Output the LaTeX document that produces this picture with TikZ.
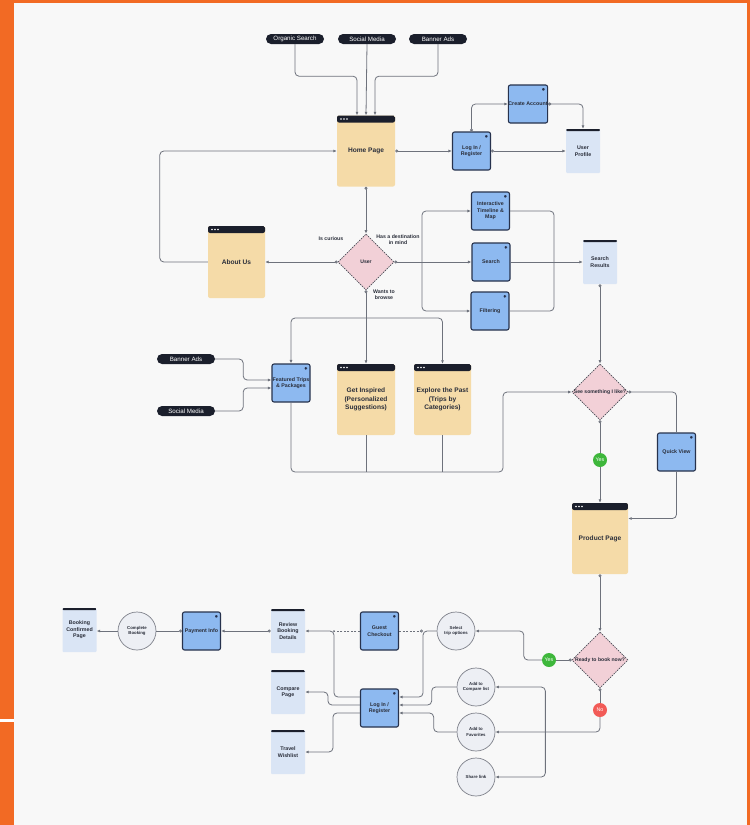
\documentclass[tikz,border=0pt]{standalone}
\usepackage{fontspec}
\setmainfont{Liberation Sans}
\usetikzlibrary{arrows.meta,shapes.geometric,calc}

\definecolor{framec}{HTML}{F26A24}
\definecolor{bgc}{HTML}{F8F8F8}
\definecolor{barc}{HTML}{1B1F2C}
\definecolor{tanc}{HTML}{F5DBA8}
\definecolor{bluec}{HTML}{8DB9F0}
\definecolor{edgec}{HTML}{27324D}
\definecolor{paleblue}{HTML}{DAE5F5}
\definecolor{pinkc}{HTML}{F2D0D7}
\definecolor{circc}{HTML}{EDEFF4}
\definecolor{linec}{HTML}{6E727C}
\definecolor{textc}{HTML}{2A2E3A}
\definecolor{yesc}{HTML}{3EB73B}
\definecolor{noc}{HTML}{F25B57}

\newcommand{\fsz}[2]{\fontsize{#1}{#2}\selectfont}

\begin{document}
\begin{tikzpicture}[x=1pt, y=-1pt,
    every node/.style={text=textc},
    pill/.style={rectangle, rounded corners=5pt, fill=barc, text=white, minimum width=58pt,
        minimum height=10pt, inner sep=0pt, font=\fsz{6.2}{7}},
    page/.style={rectangle, rounded corners=2pt, fill=tanc, minimum width=58pt, minimum height=71pt,
        inner sep=1pt, align=center, font=\fsz{6.6}{8.2}\bfseries,
        path picture={
            \fill[barc] (path picture bounding box.north west) rectangle ([yshift=-7pt]path picture bounding box.north east);
            \foreach \k in {4,7,10}
                \fill[white] ([xshift=\k pt, yshift=-3.5pt]path picture bounding box.north west) circle (0.9pt);
        }},
    lpage/.style={rectangle, rounded corners=1pt, fill=paleblue, minimum width=34pt, minimum height=44pt,
        inner sep=1pt, align=center, font=\fsz{5.3}{6.5}\bfseries,
        path picture={
            \fill[barc] (path picture bounding box.north west) rectangle ([yshift=-2pt]path picture bounding box.north east);
        }},
    blueb/.style={rectangle, rounded corners=2pt, draw=edgec, line width=1.1pt, fill=bluec, minimum size=38pt,
        inner sep=0pt, align=center, font=\fsz{5.3}{6.5}\bfseries,
        path picture={
            \fill[edgec] ([xshift=-5.5pt, yshift=-3pt]path picture bounding box.north east) rectangle ([xshift=-3pt, yshift=-5.5pt]path picture bounding box.north east);
        }},
    decision/.style={diamond, aspect=1, fill=pinkc, draw=barc!80, line width=0.6pt, dash pattern=on 1.5pt off 1pt,
        minimum width=56pt, minimum height=56pt, inner sep=0pt,
        label={[font=\fsz{5.1}{6}\bfseries, text=textc]center:#1}},
    action/.style={circle, fill=circc, draw=linec!90, line width=0.7pt, minimum size=38pt, inner sep=0pt,
        align=center, font=\fsz{4.3}{5.3}\bfseries},
    tag/.style={circle, minimum size=14pt, inner sep=0pt, text=white, font=\fsz{5.3}{6}},
    note/.style={align=center, font=\fsz{5.2}{6.2}\bfseries, inner sep=0pt},
    wire/.style={draw=linec, line width=0.8pt, rounded corners=4pt},
    arrow/.style={wire, -{Latex[length=3.5pt,width=3pt]}},
    oarrow/.style={wire, {Circle[length=3pt,fill=bgc]}-{Latex[length=3.5pt,width=3pt]}},
    owire/.style={wire, {Circle[length=3pt,fill=bgc]}-},
    dashwire/.style={wire, dash pattern=on 2pt off 1.5pt}
]
    % Frame
    \fill[framec] (0,0) rectangle (750,825);
    \fill[bgc] (14,2.5) rectangle (747,825);
    \fill[white] (0,718.5) rectangle (14,722);
    \useasboundingbox (0,0) rectangle (750,825);

    % Traffic sources
    \foreach \x/\t/\n in {295/Organic Search/os, 367/Social Media/sm, 438/Banner Ads/ba}
        \node[pill] (\n) at (\x,39) {\t};
    \node[pill] (ads) at (186,359) {Banner Ads};
    \node[pill] (social) at (186,411) {Social Media};

    % Pages
    \node[page] (home) at (366,151) {Home Page};
    \node[page, minimum width=57pt, minimum height=72pt] (about) at (236.5,262) {About Us};
    \node[page] (inspire) at (366,399.5) {Get Inspired\\(Personalized\\Suggestions)};
    \node[page, minimum width=57pt] (explore) at (442.5,399.5) {Explore the Past\\(Trips by\\Categories)};
    \node[page, minimum width=56pt] (product) at (600,538.5) {Product Page};

    % Screens
    \node[blueb] (login) at (471.5,151) {Log In /\\Register};
    \node[blueb] (create) at (528,104) {Create Account};
    \node[blueb] (timeline) at (490.5,211) {Interactive\\Timeline \&\\Map};
    \node[blueb] (search) at (491,262) {Search};
    \node[blueb] (filter) at (490,311) {Filtering};
    \node[blueb] (featured) at (291,383) {Featured Trips\\\& Packages};
    \node[blueb] (quick) at (676.5,452) {Quick View};
    \node[blueb] (payment) at (201.5,631) {Payment Info};
    \node[blueb] (guest) at (379.5,631) {Guest\\Checkout};
    \node[blueb] (login2) at (379.5,708) {Log In /\\Register};

    % Result pages
    \node[lpage] (profile) at (583,151) {User\\Profile};
    \node[lpage] (results) at (600,262) {Search\\Results};
    \node[lpage] (review) at (288,631) {Review\\Booking\\Details};
    \node[lpage] (compare) at (288,692) {Compare\\Page};
    \node[lpage] (wishlist) at (288,752) {Travel\\Wishlist};
    \node[lpage] (confirmed) at (79.5,630) {Booking\\Confirmed\\Page};

    % Decisions
    \node[decision=User] (user) at (366,262) {};
    \node[decision={See something I like?}] (see) at (600,392) {};
    \node[decision={Ready to book now?}] (ready) at (600,660) {};
    \node[note] (curious) at (331,239) {Is curious};
    \node[note] (dest) at (398,240) {Has a destination\\in mind};
    \node[note] (browse) at (384,295) {Wants to\\browse};

    % Actions
    \node[action] (select) at (456,631) {Select\\trip options};
    \foreach \y/\t/\n in {687/{Add to\\Compare list}/addcmp, 732/{Add to\\Favorites}/addfav, 777/{Share link}/share}
        \node[action] (\n) at (476,\y) {\t};
    \node[action] (complete) at (137,631) {Complete\\Booking};

    % Answers
    \node[tag, fill=yesc] (yes1) at (600,460) {Yes};
    \node[tag, fill=yesc] (yes2) at (549,660) {Yes};
    \node[tag, fill=noc] (no) at (600,710) {No};

    \coordinate (split) at (422,262);
    \coordinate (join) at (554,262);
    \coordinate (fork) at (366,318);
    \coordinate (busr) at (503,472);
    \coordinate (gj) at (423,631);
    \coordinate (gl) at (334,631);

    % Traffic -> Home
    \draw[arrow] (os.south) -- ++(0,32) -| ([xshift=-9pt]home.north);
    \draw[arrow] (sm.south) -- (home.north);
    \draw[arrow] (ba.south) -- ++(0,32) -| ([xshift=9pt]home.north);

    % Account
    \draw[oarrow] (home.east) -- (login.west);
    \draw[oarrow] (login.east) -- (profile.west);
    \draw[oarrow] (login.north) |- (create.west);
    \draw[oarrow] (create.east) -| (profile.north);

    % Home -> User
    \draw[arrow] (about.west) -- ++(-48,0) |- (home.west);
    \draw[oarrow] (home.south) -- (user.north);
    \draw[oarrow] (user.west) -- (about.east);
    \draw[oarrow] (user.east) -- (search.west);
    \draw[arrow] (split) |- (timeline.west);
    \draw[arrow] (split) |- (filter.west);
    \draw[wire] (timeline.east) -| (join) |- (filter.east);
    \draw[arrow] (search.east) -- (results.west);
    \draw[oarrow] (results.south) -- (see.north);

    % Browse
    \draw[owire] (user.south) -- (fork);
    \draw[arrow] (fork) -| (featured.north);
    \draw[arrow] (fork) -- (inspire.north);
    \draw[arrow] (fork) -| (explore.north);
    \draw[arrow] (ads.east) -- ++(28,0) |- ([yshift=3pt]featured.west);
    \draw[arrow] (social.east) -- ++(28,0) |- ([yshift=-5pt]featured.west);
    \draw[arrow] (featured.south) |- (busr) |- (see.west);
    \draw[wire] (inspire.south) -- (inspire.south |- busr);
    \draw[wire] (explore.south) -- (explore.south |- busr);

    % Product
    \draw[owire] (see.east) -| (quick.north);
    \draw[arrow] (quick.south) |- ([yshift=20pt]product.east);
    \draw[owire] (see.south) -- (yes1);
    \draw[arrow] (yes1) -- (product.north);
    \draw[oarrow] (product.south) -- (ready.north);

    % Booking
    \draw[owire] (ready.west) -- (yes2);
    \draw[arrow] (yes2.west) -- ++(-18,0) |- (select.east);
    \draw[owire] (ready.south) -- (no);
    \draw[arrow] (no) |- (addfav.east);
    \draw[wire, {Latex[length=3.5pt,width=3pt]}-{Latex[length=3.5pt,width=3pt]}] (share.east) -- ++(50,0) |- (addcmp.east);

    % Log In / Guest
    \draw[arrow] (select.west) -- (gj) |- ([yshift=11pt]login2.east);
    \draw[dashwire, -{Circle[length=3pt,fill=bgc]}] (guest.east) -- (gj);
    \draw[arrow] (addcmp.west) -- ++(-25,0) |- ([yshift=3pt]login2.east);
    \draw[arrow] (addfav.west) -- ++(-23,0) |- ([yshift=-5pt]login2.east);
    \draw[dashwire] (guest.west) -- (gl);
    \fill[linec] (gl) circle (1pt);
    \draw[arrow] ([yshift=11pt]login2.west) -| (gl) -- (review.east);
    \draw[arrow] ([yshift=3pt]login2.west) -- ++(-32,0) |- (compare.east);
    \draw[arrow] ([yshift=-5pt]login2.west) -- ++(-27,0) |- (wishlist.east);

    % Checkout
    \draw[oarrow] (review.west) -- (payment.east);
    \draw[owire] (payment.west) -- (complete.east);
    \draw[arrow] (complete.west) -- (complete.west -| confirmed.east);

\end{tikzpicture}
\end{document}
